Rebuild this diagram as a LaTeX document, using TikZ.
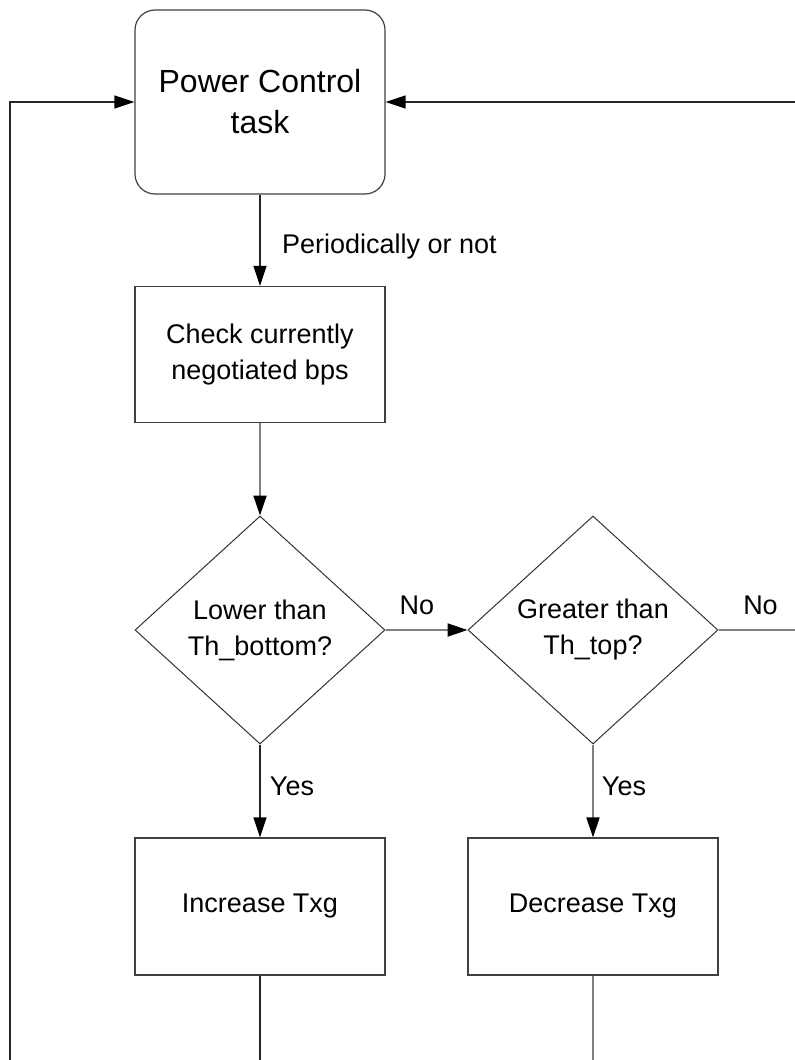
\documentclass[tikz,border=0pt]{standalone}
\usepackage{fontspec}
\setmainfont{Liberation Sans}
\usetikzlibrary{shapes.geometric,arrows.meta}

\begin{document}
\begin{tikzpicture}[x=1pt,y=-1pt,
  every node/.style={font=\fontsize{27}{36}\selectfont, inner sep=0pt},
  box/.style={draw=black!75, line width=1.2pt, rectangle, align=center,
    minimum width=250pt, minimum height=136pt},
  startbox/.style={box, rounded corners=20pt, minimum height=184pt,
    font=\fontsize{32}{41}\selectfont},
  decision/.style={draw=black!80, line width=1pt, diamond, align=center,
    aspect=1.096, minimum width=250pt, minimum height=228pt},
  tip/.style={-{Triangle[length=20pt,width=13pt,color=black]}},
  darkline/.style={draw=black!85, line width=1.3pt},
  greyline/.style={draw=black!50, line width=1.9pt},
  lbl/.style={anchor=base}
]
\useasboundingbox (0,0) rectangle (795,1060);

% process steps and decisions
\node[startbox] (pc)  at (260,102)   {Power Control\\task};
\node[box]      (chk) at (260,354.5) {Check currently\\negotiated bps};
\node[decision] (d1)  at (260,630)   {Lower than\\Th\_bottom?};
\node[decision] (d2)  at (593,630)   {Greater than\\Th\_top?};
\node[box, minimum height=137pt] (inc) at (260,906.5) {Increase Txg};
\node[box, minimum height=137pt] (dec) at (593,906.5) {Decrease Txg};

% free ends of the loop-back lines
\coordinate (loopL)  at (10,1060);
\coordinate (loopLt) at (10,102);
\coordinate (loopR)  at (795,102);
\coordinate (noOut)  at (795,630);
\coordinate (incOut) at (260,1060);
\coordinate (decOut) at (593,1060);

% connectors
\draw[darkline, tip] (pc.south) -- (chk.north);
\draw[greyline, tip] (chk.south) -- (d1.north);
\draw[greyline, tip] (d1.east) -- (d2.west);
\draw[greyline] (d2.east) -- (noOut);
\draw[darkline, tip] (d1.south) -- (inc.north);
\draw[greyline, tip] (d2.south) -- (dec.north);
\draw[darkline] (inc.south) -- (incOut);
\draw[greyline] (dec.south) -- (decOut);
\draw[darkline, tip] (loopL) -- (loopLt) -- (pc.west);
\draw[darkline, tip] (loopR) -- (pc.east);

% connector labels
\node[anchor=base west] (lper) at (282,253) {Periodically or not};
\node[lbl] (lno1)  at (417,614) {No};
\node[lbl] (lno2)  at (760.5,614) {No};
\node[lbl] (lyes1) at (292,795) {Yes};
\node[lbl] (lyes2) at (624,795) {Yes};
\end{tikzpicture}
\end{document}
